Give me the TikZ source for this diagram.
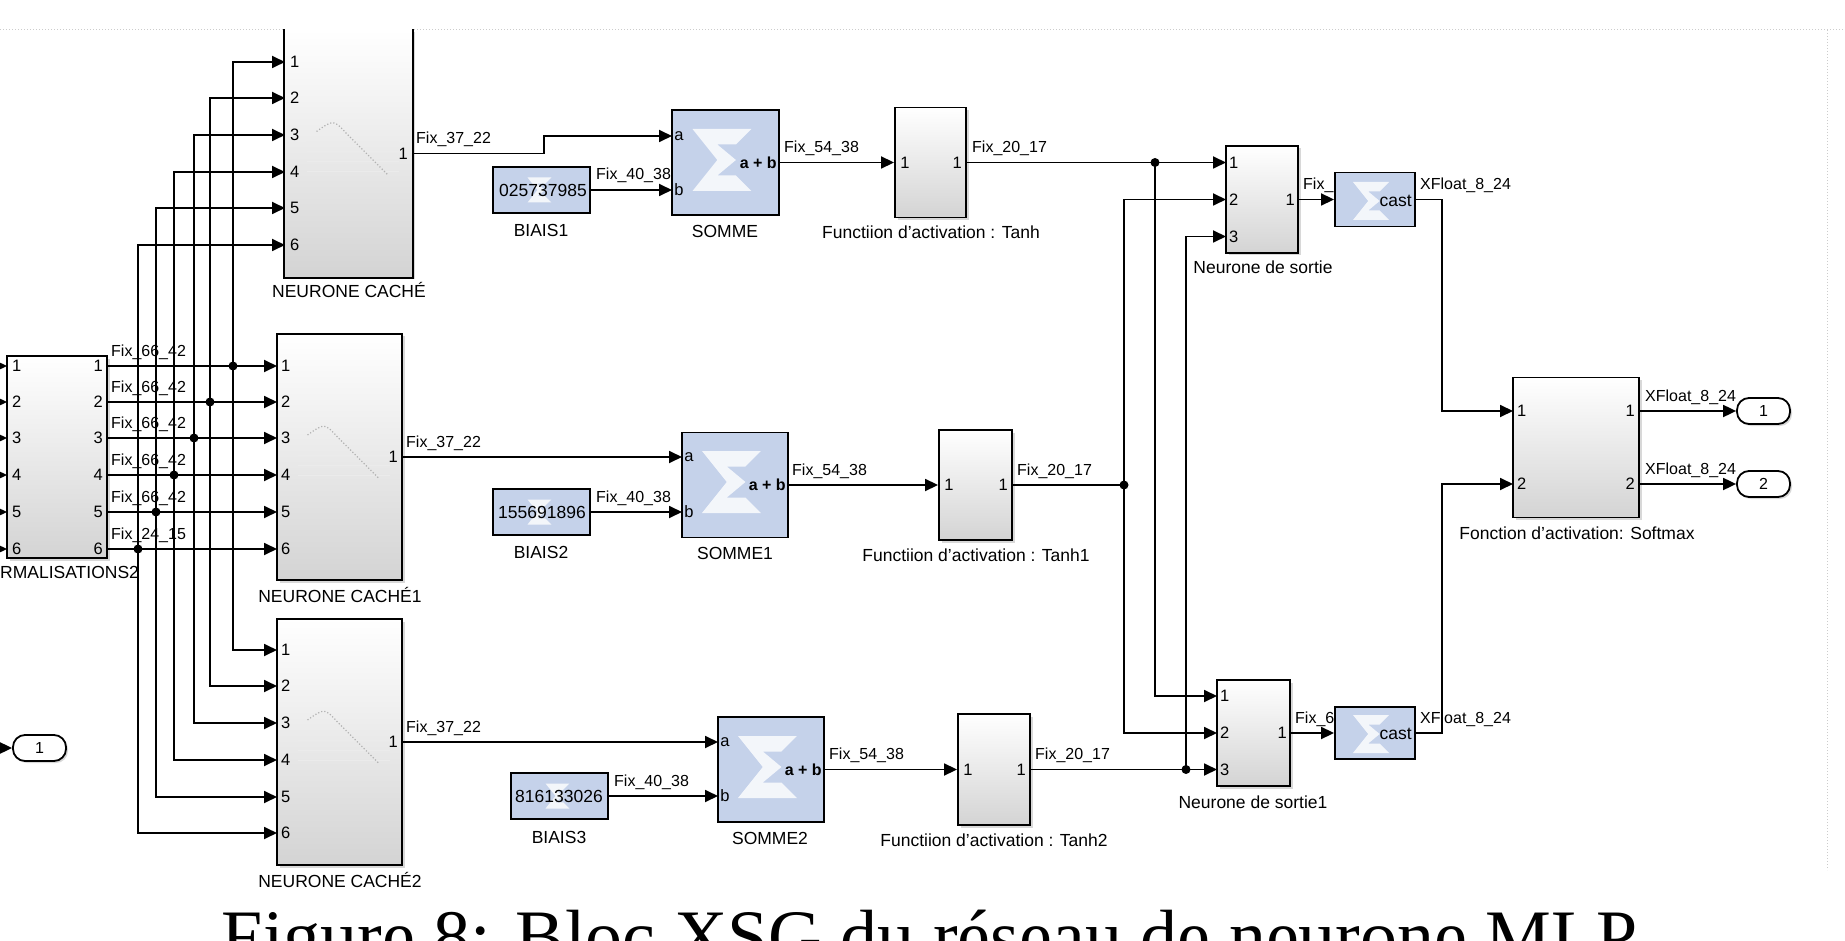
\documentclass[tikz,border=0pt]{standalone}
\usepackage{fontspec}
\setmainfont{Liberation Sans}
\newfontfamily\capfont{Liberation Serif}
\usetikzlibrary{arrows.meta,shadows}
\definecolor{xblue}{RGB}{197,210,234}
\newcommand{\xlogo}[3]{\fill[white,opacity=.8,shift={(#1,#2)},scale=#3]
  (-.5,-.5) -- (.45,-.5) -- (.2,-.25) -- (-.1,-.25) -- (.2,0) -- (-.1,.25)
  -- (.2,.25) -- (.45,.5) -- (-.5,.5) -- (-.1,0) -- cycle;}

\begin{document}
\begin{tikzpicture}
  [x=1pt,y=-1pt,
   every node/.style={inner sep=0pt,font=\fontsize{17.5}{20}\selectfont},
   subsys/.style={draw,line width=1.9pt,top color=white,bottom color=black!17,
     drop shadow={shadow xshift=2.5pt,shadow yshift=-2.5pt,opacity=.3}},
   xblk/.style={draw,line width=1.9pt,fill=xblue},
   wire/.style={line width=1.8pt,-{Triangle[length=13pt,width=12pt]}},
   link/.style={line width=1.8pt},
   dot/.style={circle,fill,minimum size=9pt},
   portnum/.style={font=\fontsize{16.5}{18}\selectfont},
   wlabel/.style={anchor=base west,font=\fontsize{16}{18}\selectfont},
   blabel/.style={anchor=base},
   outport/.style={draw,line width=1.8pt,rounded corners=12pt,minimum width=53pt,
     minimum height=26pt,fill=white,font=\fontsize{16}{18}\selectfont,
     drop shadow={shadow xshift=2pt,shadow yshift=-2pt,opacity=.3}}]
  \useasboundingbox (0,0) rectangle (1845,941);
  \fill[white] (0,0) rectangle (1845,941);
  \draw[black!20,dotted,line width=1pt] (0,30) -- (1845,30) (1827,30) -- (1827,870);

  % blocs
  \node[subsys,draw=none,minimum width=127pt,minimum height=247pt] (nc) at (348.5,153.5) {};
  \draw[line width=1.9pt] (nc.north west) -- (nc.south west) -- (nc.south east) -- (nc.north east);
  \node[subsys,minimum width=125pt,minimum height=246pt] (nc1) at (339.5,457) {};
  \node[subsys,minimum width=125pt,minimum height=246pt] (nc2) at (339.5,742) {};
  \node[subsys,minimum width=100pt,minimum height=202pt] (norm) at (57,457) {};
  \node[xblk,minimum width=97pt,minimum height=46pt] (b1) at (541.5,190) {};
  \node[xblk,minimum width=97pt,minimum height=46pt] (b2) at (541.5,512) {};
  \node[xblk,minimum width=97pt,minimum height=46pt] (b3) at (559.5,796) {};
  \node[xblk,minimum width=107pt,minimum height=105pt] (s1) at (725.5,162.5) {};
  \node[xblk,minimum width=106pt,minimum height=105pt] (s2) at (735,485) {};
  \node[xblk,minimum width=106pt,minimum height=105pt] (s3) at (771,769.5) {};
  \node[subsys,minimum width=71pt,minimum height=110pt] (t1) at (930.5,162.5) {};
  \node[subsys,minimum width=73pt,minimum height=110pt] (t2) at (975.5,485) {};
  \node[subsys,minimum width=72pt,minimum height=111pt] (t3) at (994,769.5) {};
  \node[subsys,minimum width=72pt,minimum height=107pt] (ns1) at (1262,199.5) {};
  \node[subsys,minimum width=73pt,minimum height=106pt] (ns2) at (1253.5,733) {};
  \node[xblk,minimum width=80pt,minimum height=54pt] (c1) at (1375,199.5) {};
  \node[xblk,minimum width=80pt,minimum height=52pt] (c2) at (1375,733) {};
  \node[subsys,minimum width=126pt,minimum height=140pt] (sm) at (1576,447.5) {};
  \node[outport] (o0) at (39.5,748) {1};
  \node[outport] (o1) at (1763.5,411) {1};
  \node[outport] (o2) at (1763.5,484) {2};

  % icones pales des sous-systemes
  \foreach \n in {nc,nc1,nc2} {
    \foreach \dy in {-12,-2,8,18}
      \draw[black!8,line width=.8pt] ([shift={(-42,\dy)}]\n.center) -- ++(92,0);
    \draw[black!30,dotted,line width=1.2pt] ([shift={(-32,-22)}]\n.center)
      .. controls ([shift={(-15,-34)}]\n.center) .. ([shift={(-2,-20)}]\n.center)
      -- ([shift={(40,22)}]\n.center);
  }

  % logos Xilinx
  \foreach \x/\y/\s in {540/190/25, 540/512/25, 558/796/25, 723.5/160/62, 733/482/62,
      769/767/62, 1372/201/38, 1372/734/38}
    \xlogo{\x}{\y}{\s};

  % textes dans les blocs
  \node[anchor=east] (b1-val) at ([xshift=-4pt]b1.east) {025737985};
  \node[anchor=east] (b2-val) at ([xshift=-5pt]b2.east) {155691896};
  \node[anchor=east] (b3-val) at ([xshift=-6pt]b3.east) {816133026};
  \foreach \s/\ya/\yb/\yo in {s1/136/190/162.5, s2/457/512/485, s3/742/796/769.5} {
    \node[portnum,anchor=west] (\s-pa) at ([xshift=3pt]\s.west |- 0,\ya) {a};
    \node[portnum,anchor=west] (\s-pb) at ([xshift=3pt]\s.west |- 0,\yb) {b};
    \node[portnum,anchor=east,font=\fontsize{16}{18}\selectfont\bfseries] (\s-po) at ([xshift=-3pt]\s.east) {a + b};
  }
  \foreach \t in {t1,t2,t3} {
    \node[portnum,anchor=west] (\t-pi) at ([xshift=6pt]\t.west) {1};
    \node[portnum,anchor=east] (\t-po) at ([xshift=-5pt]\t.east) {1};
  }
  \foreach \c in {c1,c2}
    \node[anchor=east] (\c-txt) at ([xshift=-4pt,yshift=-1pt]\c.east) {cast};
  \foreach \k/\yt/\ym/\yb in {1/62/366/650, 2/98/402/686, 3/135/438/723,
      4/172/475/760, 5/208/512/797, 6/245/549/833} {
    \node[portnum,anchor=west] (nc-p\k) at (290,\yt) {\k};
    \node[portnum,anchor=west] (nc1-p\k) at (281,\ym) {\k};
    \node[portnum,anchor=west] (nc2-p\k) at (281,\yb) {\k};
    \node[portnum,anchor=west] (norm-pi\k) at (12,\ym) {\k};
    \node[portnum,anchor=east] (norm-po\k) at (103,\ym) {\k};
  }
  \node[portnum,anchor=east] (nc-po) at (408,153.5) {1};
  \node[portnum,anchor=east] (nc1-po) at (398,457) {1};
  \node[portnum,anchor=east] (nc2-po) at (398,742) {1};
  \foreach \n/\x/\ya/\yb/\yc in {ns1/1229/162.5/199.5/236.5, ns2/1220/696/733/769.5} {
    \node[portnum,anchor=west] (\n-p1) at (\x,\ya) {1};
    \node[portnum,anchor=west] (\n-p2) at (\x,\yb) {2};
    \node[portnum,anchor=west] (\n-p3) at (\x,\yc) {3};
    \node[portnum,anchor=east] (\n-po) at ([xshift=-4pt]\n.east |- 0,\yb) {1};
  }
  \node[portnum,anchor=west] (sm-p1) at (1517,411) {1};
  \node[portnum,anchor=west] (sm-p2) at (1517,484) {2};
  \node[portnum,anchor=east] (sm-q1) at (1635,411) {1};
  \node[portnum,anchor=east] (sm-q2) at (1635,484) {2};

  % noms des blocs
  \node[blabel] (nc-name) at (349,298) {NEURONE CACHÉ};
  \node[blabel] (nc1-name) at (340,602) {NEURONE CACHÉ1};
  \node[blabel] (nc2-name) at (340,887) {NEURONE CACHÉ2};
  \node[anchor=base west] (norm-name) at (0,578) {RMALISATIONS2};
  \node[blabel] (b1-name) at (541,237) {BIAIS1};
  \node[blabel] (b2-name) at (541,558) {BIAIS2};
  \node[blabel] (b3-name) at (559,843) {BIAIS3};
  \node[blabel] (s1-name) at (725,238) {SOMME};
  \node[blabel] (s2-name) at (735,559) {SOMME1};
  \node[blabel] (s3-name) at (770,844) {SOMME2};
  \node[blabel] (t1-name) at (931,239) {Functiion d'activation : Tanh};
  \node[blabel] (t2-name) at (976,561) {Functiion d'activation : Tanh1};
  \node[blabel] (t3-name) at (994,846) {Functiion d'activation : Tanh2};
  \node[blabel] (ns1-name) at (1263,274) {Neurone de sortie};
  \node[blabel] (ns2-name) at (1253,808) {Neurone de sortie1};
  \node[blabel] (sm-name) at (1577,539) {Fonction d'activation: Softmax};

  % ports
  \foreach \k/\x/\yt/\ym/\yb in {1/233/62/366/650, 2/210/98/402/686, 3/194/135/438/723,
      4/174/172/475/760, 5/156/208/512/797, 6/138/245/549/833} {
    \coordinate (nc-in\k) at (285,\yt);
    \coordinate (nc1-in\k) at (277,\ym);
    \coordinate (nc2-in\k) at (277,\yb);
    \coordinate (norm-in\k) at (7,\ym);
    \coordinate (norm-out\k) at (107,\ym);
    \coordinate (src\k) at (-8,\ym);
    \node[dot] (j\k) at (\x,\ym) {};
  }
  \coordinate (s1-a) at (672,136);   \coordinate (s1-b) at (672,190);
  \coordinate (s2-a) at (682,457);   \coordinate (s2-b) at (682,512);
  \coordinate (s3-a) at (718,742);   \coordinate (s3-b) at (718,796);
  \coordinate (ns1-in1) at (1226,162.5); \coordinate (ns1-in2) at (1226,199.5);
  \coordinate (ns1-in3) at (1226,236.5);
  \coordinate (ns2-in1) at (1217,696); \coordinate (ns2-in2) at (1217,733);
  \coordinate (ns2-in3) at (1217,769.5);
  \coordinate (sm-in1) at (1513,411); \coordinate (sm-in2) at (1513,484);
  \coordinate (sm-out1) at (1639,411); \coordinate (sm-out2) at (1639,484);
  \coordinate (src0) at (-8,748);
  \node[dot] (d1) at (1155,162.5) {};
  \node[dot] (d2) at (1124,485) {};
  \node[dot] (d3) at (1186,769.5) {};

  % liaisons
  \foreach \k in {1,...,6} {
    \draw[wire] (src\k) -- (norm-in\k);
    \draw[wire] (norm-out\k) -- (nc1-in\k);
    \draw[wire] (j\k.center) |- (nc-in\k);
    \draw[wire] (j\k.center) |- (nc2-in\k);
  }
  \draw[wire] (src0) -- (o0);
  \draw[wire] (nc.east) -- ++(131,0) |- (s1-a);
  \draw[wire] (nc1.east) -- (s2-a);
  \draw[wire] (nc2.east) -- (s3-a);
  \draw[wire] (b1) -- (s1-b);
  \draw[wire] (b2) -- (s2-b);
  \draw[wire] (b3) -- (s3-b);
  \draw[wire] (s1) -- (t1);
  \draw[wire] (s2) -- (t2);
  \draw[wire] (s3) -- (t3);
  \draw[link] (t1) -- (d1.center);
  \draw[link] (t2) -- (d2.center);
  \draw[link] (t3) -- (d3.center);
  \draw[wire] (d1.center) -- (ns1-in1);
  \draw[wire] (d1.center) |- (ns2-in1);
  \draw[wire] (d2.center) |- (ns1-in2);
  \draw[wire] (d2.center) |- (ns2-in2);
  \draw[wire] (d3.center) -- (ns2-in3);
  \draw[wire] (d3.center) |- (ns1-in3);
  \draw[wire] (ns1) -- (c1);
  \draw[wire] (ns2) -- (c2);
  \draw[wire] (c1.east) -- ++(26,0) |- (sm-in1);
  \draw[wire] (c2.east) -- ++(26,0) |- (sm-in2);
  \draw[wire] (sm-out1) -- (o1);
  \draw[wire] (sm-out2) -- (o2);

  % types des signaux
  \foreach \x/\y/\t [count=\i] in {111/356/Fix\_66\_42, 111/392/Fix\_66\_42,
      111/428/Fix\_66\_42, 111/465/Fix\_66\_42, 111/502/Fix\_66\_42, 111/539/Fix\_24\_15,
      416/143.5/Fix\_37\_22, 406/447/Fix\_37\_22, 406/732/Fix\_37\_22,
      596/180/Fix\_40\_38, 596/502/Fix\_40\_38, 614/786/Fix\_40\_38,
      784/152.5/Fix\_54\_38, 792/475/Fix\_54\_38, 829/759.5/Fix\_54\_38,
      972/152.5/Fix\_20\_17, 1017/475/Fix\_20\_17, 1035/759.5/Fix\_20\_17,
      1303/189.5/Fix\_, 1295/723/Fix\_6,
      1420/189.5/XFloat\_8\_24, 1420/723/XFloat\_8\_24,
      1645/401/XFloat\_8\_24, 1645/474/XFloat\_8\_24}
    \node[wlabel] (w\i) at (\x,\y) {\t};

  \node[anchor=base,font=\capfont\fontsize{74}{80}\selectfont] (caption) at (930,961)
    {Figure 8: Bloc XSG du réseau de neurone MLP};
\end{tikzpicture}
\end{document}
